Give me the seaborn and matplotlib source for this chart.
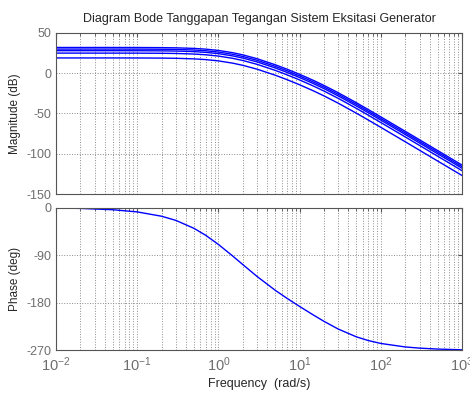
import matplotlib
matplotlib.use('Agg')
import numpy as np
import pandas as pd
import matplotlib.pyplot as plt
import seaborn as sns

# Frequency points (rad/s)
freq = [0.01, 0.02, 0.05, 0.1, 0.2, 0.3, 0.5, 0.7, 1, 1.5, 2, 3, 5, 7,
        10, 15, 20, 30, 50, 70, 100, 200, 300, 500, 1000]

# Magnitude drop from the low-frequency level (dB), same for all curves
mag_drop = [0.0, 0.0, -0.01, -0.05, -0.2, -0.44, -1.14, -2.07, -3.67, -6.48,
            -9.18, -13.97, -21.4, -26.96, -33.31, -41.16, -47.17, -56.28,
            -68.61, -77.07, -86.19, -104.12, -114.66, -127.97, -146.02]

# Low-frequency level of each magnitude curve (dB)
dc_gain = [32, 30, 28, 25, 19]

# Phase (deg)
phase = [-0.8, -1.7, -4.2, -8.3, -16.5, -24.4, -39.3, -52.6, -69.7, -91.6,
         -107.8, -130.3, -156.2, -171.5, -186.8, -203.6, -215.0, -229.6,
         -244.2, -251.2, -256.7, -263.3, -265.5, -267.3, -268.7]

rows = []
for k, g in enumerate(dc_gain):
    for w, d in zip(freq, mag_drop):
        rows.append({'w': w, 'mag': g + d, 'curve': k})
mag_df = pd.DataFrame(rows)
ph_df = pd.DataFrame({'w': freq, 'phase': phase})

sns.set_style('white')
plt.rcParams['font.family'] = ['Liberation Sans', 'DejaVu Sans']
plt.rcParams['axes.unicode_minus'] = False
plt.rcParams['mathtext.default'] = 'regular'

fig = plt.figure(figsize=(4.7, 3.96), dpi=100)
ax1 = fig.add_axes([0.1191, 0.5101, 0.8639, 0.4066])
ax2 = fig.add_axes([0.1191, 0.1149, 0.8639, 0.3611])

sns.lineplot(data=mag_df, x='w', y='mag', hue='curve', units='curve',
             estimator=None, palette=['#0000ff'] * len(dc_gain),
             linewidth=1.0, legend=False, ax=ax1)
sns.lineplot(data=ph_df, x='w', y='phase', color='#0000ff', linewidth=1.0,
             ax=ax2)

tick_col = '#6e6e6e'
for ax in (ax1, ax2):
    ax.set_xscale('log')
    ax.set_xlim(1e-2, 1e3)
    ax.grid(True, which='major', axis='both', linestyle=':', color='#8c8c8c', linewidth=0.7)
    ax.grid(True, which='minor', axis='x', linestyle=':', color='#8c8c8c', linewidth=0.7)
    ax.tick_params(which='both', direction='in', top=True, right=True,
                   colors='#555555', labelcolor=tick_col, labelsize=9)
    ax.tick_params(which='major', length=3)
    ax.tick_params(which='minor', length=2)
    for s in ax.spines.values():
        s.set_color('#555555')
        s.set_linewidth(0.8)
    ax.set_xlabel('')

ax1.set_ylim(-150, 50)
ax1.set_yticks([-150, -100, -50, 0, 50])
ax1.tick_params(labelbottom=False)
ax1.set_ylabel('Magnitude (dB)', fontsize=8.5)
ax1.set_title('Diagram Bode Tanggapan Tegangan Sistem Eksitasi Generator',
              fontsize=9, pad=8)

ax2.set_ylim(-270, 0)
ax2.set_yticks([-270, -180, -90, 0])
ax2.tick_params(axis='x', labelsize=10.5)
ax2.set_ylabel('Phase (deg)', fontsize=8.5)
ax2.set_xlabel('Frequency  (rad/s)', fontsize=9, labelpad=3)

fig.savefig('out.png', dpi=100)
